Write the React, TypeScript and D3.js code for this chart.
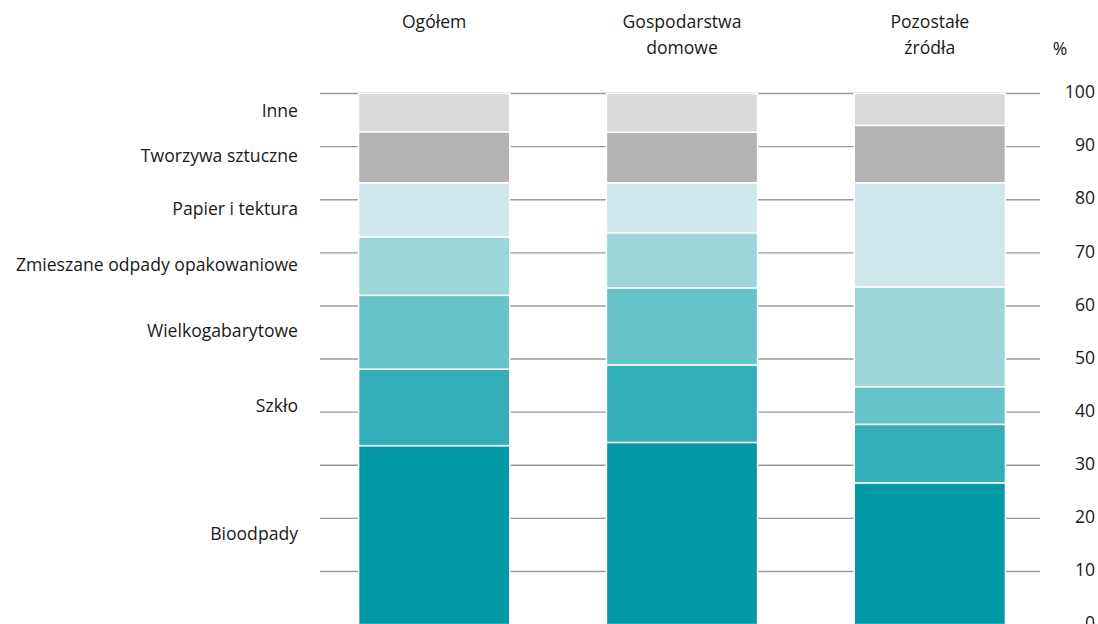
import React from "react";
import * as d3 from "d3";

const categories = ["Ogółem", "Gospodarstwa domowe", "Pozostałe źródła"];
const categoryLines = [["Ogółem"], ["Gospodarstwa", "domowe"], ["Pozostałe", "źródła"]];
const seriesNames = [
  "Bioodpady",
  "Szkło",
  "Wielkogabarytowe",
  "Zmieszane odpady opakowaniowe",
  "Papier i tektura",
  "Tworzywa sztuczne",
  "Inne",
];
const bioodpady = [33.7, 34.3, 26.7];
const szklo = [14.4, 14.6, 11.0];
const wielkogabarytowe = [13.9, 14.5, 7.1];
const zmieszane = [11.0, 10.4, 18.8];
const papier = [10.2, 9.4, 19.6];
const tworzywa = [9.6, 9.5, 10.8];
const inne = [7.2, 7.3, 6.0];
const yTicks = [0, 10, 20, 30, 40, 50, 60, 70, 80, 90, 100];
const colors = ["#0099a5", "#33adb8", "#66c3c9", "#9cd6da", "#cfe8eb", "#b3b3b3", "#d9d9d9"];

const seriesValues = [bioodpady, szklo, wielkogabarytowe, zmieszane, papier, tworzywa, inne];

export default function App() {
  const W = 1098, H = 624;
  const y = d3.scaleLinear().domain([0, 100]).range([624.6, 93.5]);
  const x = d3.scaleBand().domain(categories).range([309, 1055]).paddingInner(0.39).paddingOuter(0.2);
  const rows = categories.map((c, i) => {
    const r: any = { cat: c };
    seriesNames.forEach((s, k) => (r[s] = seriesValues[k][i]));
    return r;
  });
  const stack = d3.stack<any>().keys(seriesNames)(rows);
  const font = "'Open Sans', 'Noto Sans', sans-serif";
  const fs = 17.6;
  const gridX0 = 320, gridX1 = 1040;
  return (
    <svg width={W} height={H} style={{ position: "absolute", left: 0, top: 0, background: "#fff" }} fontFamily={font}>
      {yTicks.filter((t) => t > 0).map((t) => (
        <line key={t} x1={gridX0} x2={gridX1} y1={y(t)} y2={y(t)} stroke="#9a9a9a" strokeWidth={1.4} />
      ))}
      {stack.map((layer, k) =>
        layer.map((seg, i) => (
          <rect
            key={k + "-" + i}
            x={x(categories[i])!}
            width={x.bandwidth()}
            y={y(seg[1])}
            height={y(seg[0]) - y(seg[1])}
            fill={colors[k]}
            stroke="#ffffff"
            strokeWidth={1.5}
          />
        ))
      )}
      {yTicks.map((t) => (
        <text key={t} x={1095} y={y(t)} textAnchor="end" dominantBaseline="middle" fontSize={fs} fill="#1a1a1a">
          {t}
        </text>
      ))}
      <text x={1060} y={50} textAnchor="middle" dominantBaseline="middle" fontSize={fs} fill="#1a1a1a">%</text>
      {categoryLines.map((lines, i) =>
        lines.map((ln, j) => (
          <text
            key={i + "-" + j}
            x={x(categories[i])! + x.bandwidth() / 2}
            y={23 + j * 26}
            textAnchor="middle"
            dominantBaseline="middle"
            fontSize={fs}
            fill="#1a1a1a"
          >
            {ln}
          </text>
        ))
      )}
      {stack.map((layer, k) => (
        <text
          key={k}
          x={298}
          y={(y(layer[0][0]) + y(layer[0][1])) / 2}
          textAnchor="end"
          dominantBaseline="middle"
          fontSize={fs}
          fill="#1a1a1a"
        >
          {seriesNames[k]}
        </text>
      ))}
    </svg>
  );
}
